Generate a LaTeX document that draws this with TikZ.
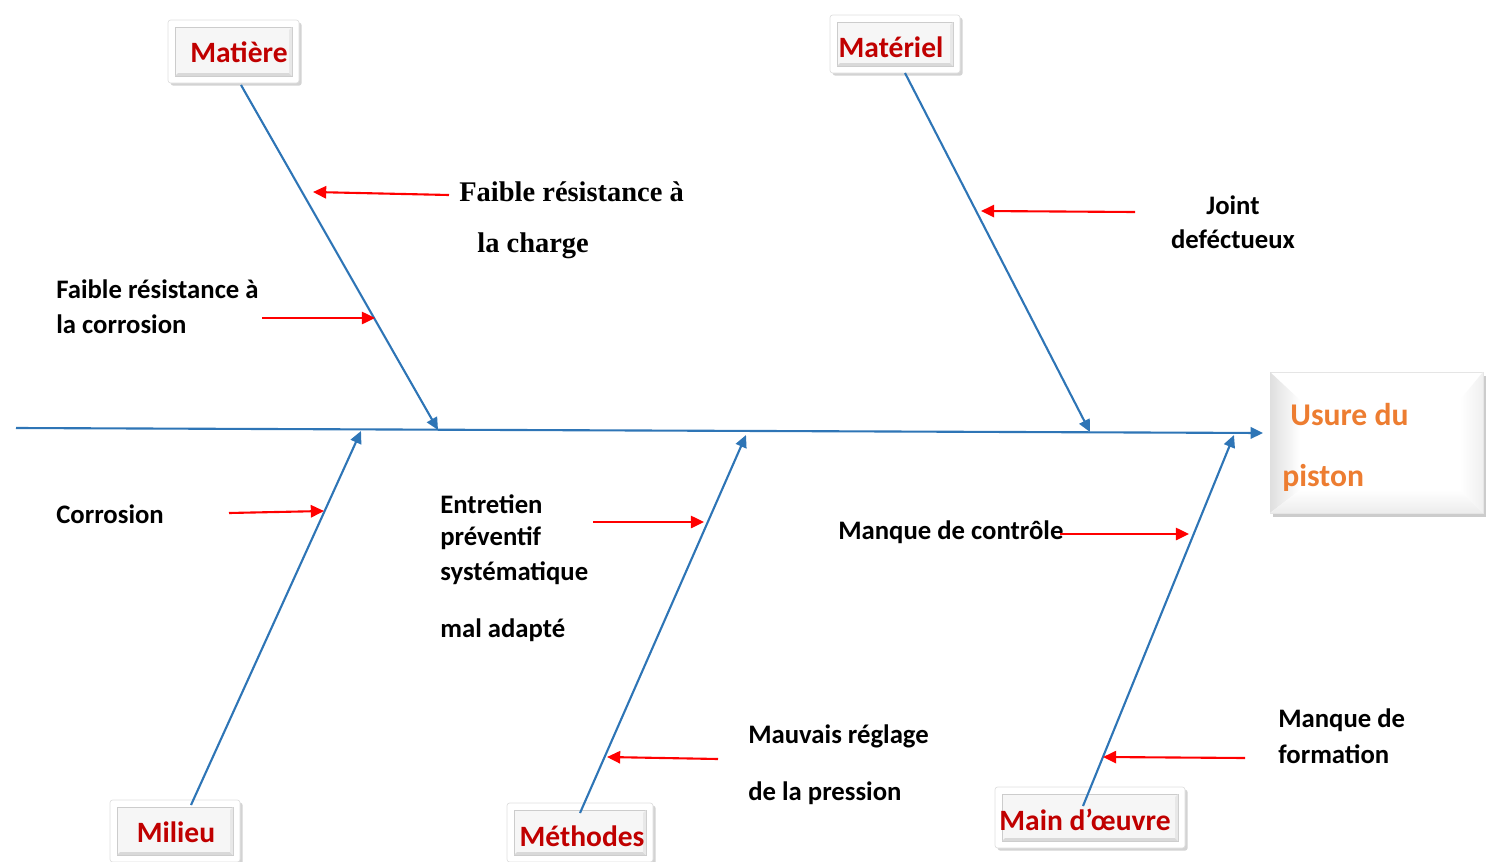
\documentclass[tikz,border=0pt]{standalone}
\usepackage{fontspec}
\setmainfont{Carlito}
\newfontfamily\serifbold{Liberation Serif}
\usetikzlibrary{arrows.meta,shadows}

\definecolor{spineblue}{HTML}{2E75B6}
\definecolor{catred}{HTML}{C00000}
\definecolor{effectorange}{HTML}{ED7D31}

\tikzset{
  bone/.style={draw=spineblue, line width=1.2pt, -{Triangle[length=7pt,width=6.5pt]}},
  cause/.style={draw=red, line width=1.2pt, -{Triangle[length=7.5pt,width=7pt]}},
  causetext/.style={font=\fontsize{15.2}{18}\selectfont\bfseries, anchor=west, inner sep=0pt},
  serifcause/.style={font=\serifbold\fontsize{16.2}{19}\selectfont\bfseries, anchor=west, inner sep=0pt},
  catlabel/.style={font=\fontsize{16.8}{20}\selectfont\bfseries, text=catred, inner sep=0pt},
  effecttext/.style={font=\fontsize{18}{21}\selectfont\bfseries, text=effectorange, anchor=west, inner sep=0pt},
  outerbtn/.style={fill=white, draw=gray!25, rounded corners=1.5pt,
    drop shadow={shadow xshift=1.5pt, shadow yshift=-1.5pt, opacity=0.35}},
  innerbtn/.style={fill=gray!7, draw=gray!40},
}

% button-like category box: corners (x1,y1) (x2,y2), inset in pixels
\newcommand\catbutton[4]{%
  \path[outerbtn] (#1,#2) rectangle (#3,#4);
  \path[innerbtn] (#1+7,#2+7) rectangle (#3-7,#4-7);
  \fill[gray!30] (#1+7,#4-7) -- (#3-7,#4-7) -- (#3-10,#4-10) -- (#1+10,#4-10) -- cycle;
  \fill[gray!18] (#3-7,#2+7) -- (#3-7,#4-7) -- (#3-10,#4-10) -- (#3-10,#2+10) -- cycle;
}

\begin{document}
\begin{tikzpicture}[x=0.02cm, y=-0.02cm]
\useasboundingbox (0,0) rectangle (1495,862);

% ---------- category boxes ----------
\catbutton{168}{20}{299}{83}
\node[catlabel] (matiere) at (239,52) {Matière};
\catbutton{830}{15}{960}{73}
\node[catlabel] (materiel) at (891,47) {Matériel};
\catbutton{110}{800}{240}{862}
\node[catlabel] (milieu) at (176,832) {Milieu};
\catbutton{507}{803}{653}{862}
\node[catlabel] (methodes) at (582,836) {Méthodes};
\catbutton{995}{787}{1185}{848}
\node[catlabel] (maindoeuvre) at (1085,820) {Main d’œuvre};

% ---------- effect box ----------
\path[fill=white, draw=gray!20, drop shadow={shadow xshift=1.5pt, shadow yshift=-2pt, opacity=0.4}]
  (1270,372) rectangle (1483,513);
\shade[left color=gray!25, right color=white] (1270,372) -- (1300,400) -- (1300,490) -- (1270,513) -- cycle;
\shade[top color=white, bottom color=gray!15] (1270,513) -- (1300,490) -- (1460,490) -- (1483,513) -- cycle;
\shade[left color=white, right color=gray!12] (1483,372) -- (1460,400) -- (1460,490) -- (1483,513) -- cycle;
\node[effecttext] (usure) at (1290,415) {Usure du};
\node[effecttext] (piston) at (1282,478) {piston};

% ---------- spine ----------
\coordinate (tail) at (16,428);
\coordinate (head) at (1263,433);
\draw[bone] (tail) -- (head);

% ---------- bones ----------
\coordinate (matTop) at (241,85);   \coordinate (matEnd) at (438,430);
\coordinate (mtlTop) at (905,73);   \coordinate (mtlEnd) at (1090,432);
\coordinate (milBot) at (191,805);  \coordinate (milEnd) at (361,431);
\coordinate (metBot) at (580,813);  \coordinate (metEnd) at (746,435);
\coordinate (mdoBot) at (1083,806); \coordinate (mdoEnd) at (1234,435);
\draw[bone] (matTop) -- (matEnd);
\draw[bone] (mtlTop) -- (mtlEnd);
\draw[bone] (milBot) -- (milEnd);
\draw[bone] (metBot) -- (metEnd);
\draw[bone] (mdoBot) -- (mdoEnd);

% ---------- causes ----------
\node[serifcause] (charge1) at (459,192) {Faible résistance à};
\node[serifcause] (charge2) at (477,246) {la charge};
\coordinate (c1s) at (449,195); \coordinate (c1e) at (313,192);
\draw[cause] (c1s) -- (c1e);

\node[causetext] (corr1) at (56,289) {Faible résistance à};
\node[causetext] (corr2) at (56,324) {la corrosion};
\coordinate (c2s) at (262,318); \coordinate (c2e) at (375,318);
\draw[cause] (c2s) -- (c2e);

\node[causetext, anchor=center] (joint1) at (1233,205) {Joint};
\node[causetext, anchor=center] (joint2) at (1233,239) {deféctueux};
\coordinate (c3s) at (1135,212); \coordinate (c3e) at (981,211);
\draw[cause] (c3s) -- (c3e);

\node[causetext] (corrosion) at (56,514) {Corrosion};
\coordinate (c4s) at (229,513); \coordinate (c4e) at (324,511);
\draw[cause] (c4s) -- (c4e);

\node[causetext] (ent1) at (440,504) {Entretien};
\node[causetext] (ent2) at (440,538) {préventif};
\node[causetext] (ent3) at (440,573) {systématique};
\node[causetext] (ent4) at (440,630) {mal adapté};
\coordinate (c5s) at (593,522); \coordinate (c5e) at (704,522);
\draw[cause] (c5s) -- (c5e);

\node[causetext] (controle) at (838,532) {Manque de contrôle};
\coordinate (c6s) at (1060,534); \coordinate (c6e) at (1189,534);
\draw[cause] (c6s) -- (c6e);

\node[causetext] (regl1) at (748,736) {Mauvais réglage};
\node[causetext] (regl2) at (748,793) {de la pression};
\coordinate (c7s) at (718,759); \coordinate (c7e) at (607,757);
\draw[cause] (c7s) -- (c7e);

\node[causetext] (form1) at (1278,720) {Manque de};
\node[causetext] (form2) at (1278,754) {formation};
\coordinate (c8s) at (1245,758); \coordinate (c8e) at (1103,757);
\draw[cause] (c8s) -- (c8e);
\end{tikzpicture}
\end{document}
